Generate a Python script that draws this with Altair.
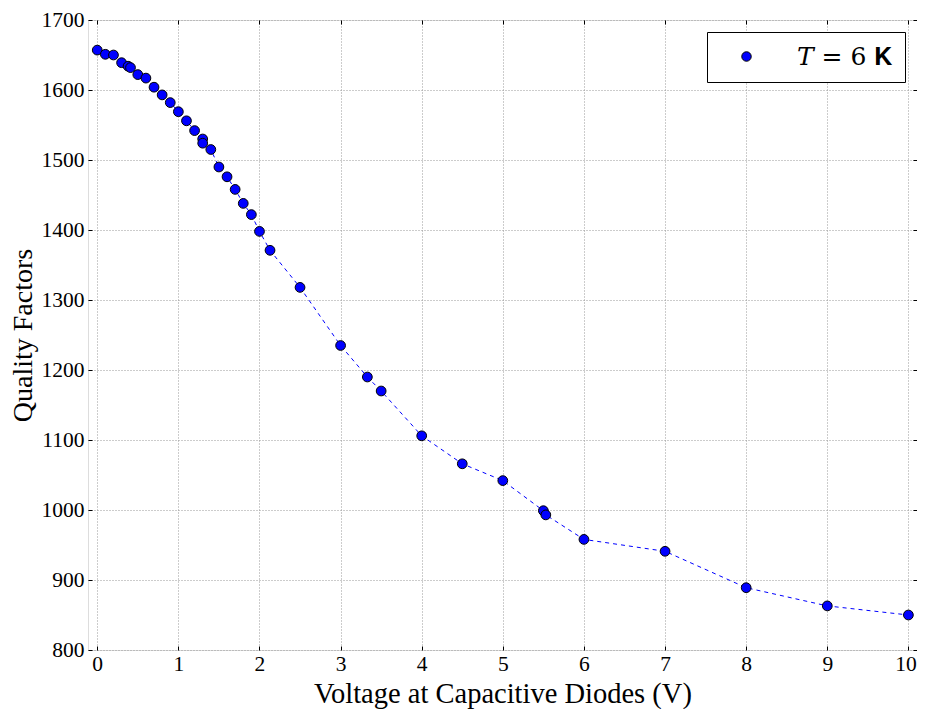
import altair as alt
import pandas as pd

voltage = [0.0, 0.1, 0.2, 0.3, 0.38, 0.41, 0.5, 0.6, 0.7, 0.8, 0.9, 1.0, 1.1, 1.2,
           1.3, 1.3, 1.4, 1.5, 1.6, 1.7, 1.8, 1.9, 2.0, 2.13, 2.5, 3.0, 3.33, 3.5,
           4.0, 4.5, 5.0, 5.5, 5.53, 6.0, 7.0, 8.0, 9.0, 10.0]
quality = [1657, 1651, 1650, 1639, 1634, 1632, 1622, 1617, 1604, 1593, 1582, 1569, 1556, 1542,
           1530, 1524, 1515, 1490, 1476, 1458, 1438, 1422, 1398, 1371, 1318, 1235, 1190, 1170,
           1106, 1066, 1042, 999, 993, 958, 941, 889, 863, 850]
series_label = "𝑇 = 6 𝐊"
x_ticks = list(range(0, 11))
y_ticks = list(range(800, 1701, 100))

df = pd.DataFrame({"v": voltage, "q": quality, "idx": list(range(len(voltage))),
                   "series": [series_label] * len(voltage)})

W, H = 829, 630
FONT = "Liberation Serif"

xs = alt.Scale(domain=[-0.114, 10.106], nice=False, zero=False)
ys = alt.Scale(domain=[800, 1700], nice=False, zero=False)

ax_bottom = alt.Axis(values=x_ticks, format="d", tickSize=0, grid=True, gridColor="#999",
                     gridDash=[1, 2], gridWidth=1, domain=False, labelFont=FONT, labelFontSize=21.5,
                     labelColor="black", labelPadding=3,
                     labelOffset={"condition": {"test": "datum.value == 10", "value": -3}, "value": 0},
                     title="Voltage at Capacitive Diodes (V)",
                     titleFont=FONT, titleFontSize=28.5, titleFontWeight="normal", titleColor="black",
                     titleBaseline="alphabetic", titleY=52, labelFlush=False)
ax_left = alt.Axis(values=y_ticks, format="d", tickSize=0, grid=True, gridColor="#999",
                   gridDash=[1, 2], gridWidth=1, domain=False, labelFont=FONT, labelFontSize=21.5,
                   labelColor="black", labelPadding=4, title="Quality Factors",
                   titleFont=FONT, titleFontSize=28, titleFontWeight="normal", titleColor="black",
                   titlePadding=4, labelFlush=False)


def tick_axis(orient, offset, values):
    return alt.Axis(orient=orient, offset=offset, values=values, tickSize=4, tickColor="black",
                    tickWidth=1, labels=False, grid=False, domain=False, title=None)


line = alt.Chart(df).mark_line(color="blue", strokeWidth=1, strokeDash=[4, 4]).encode(
    x=alt.X("v:Q", scale=xs, axis=ax_bottom),
    y=alt.Y("q:Q", scale=ys, axis=ax_left),
    order="idx:Q",
)

pts = alt.Chart(df).mark_circle(size=95, stroke="black", strokeWidth=1, opacity=1).encode(
    x=alt.X("v:Q", scale=xs, axis=tick_axis("top", -H, x_ticks)),
    y=alt.Y("q:Q", scale=ys, axis=tick_axis("right", -W, y_ticks)),
    fill=alt.Fill("series:N", scale=alt.Scale(range=["blue"]),
                  legend=alt.Legend(title=None, orient="top-right", offset=12,
                                    strokeColor="black", fillColor="white", padding=12,
                                    labelFont="DejaVu Serif", labelFontSize=25, labelColor="black",
                                    symbolType="circle", symbolSize=90,
                                    symbolStrokeColor="black", symbolStrokeWidth=1,
                                    symbolOffset=15, labelOffset=38, cornerRadius=0)),
)

ticks2 = alt.Chart(df).mark_point(opacity=0).encode(
    x=alt.X("v:Q", scale=xs, axis=tick_axis("bottom", -H, x_ticks)),
    y=alt.Y("q:Q", scale=ys, axis=tick_axis("left", -W, y_ticks)),
)

chart = alt.layer(line, pts, ticks2).resolve_axis(x="independent", y="independent").properties(
    width=W, height=H,
    autosize=alt.AutoSizeParams(type="none"),
    padding={"left": 80, "top": 12, "right": 0, "bottom": 59},
).configure_view(stroke="black", strokeWidth=1.2).configure(background="white")

chart.save("out.html", embed_options={"renderer": "svg", "actions": False})
